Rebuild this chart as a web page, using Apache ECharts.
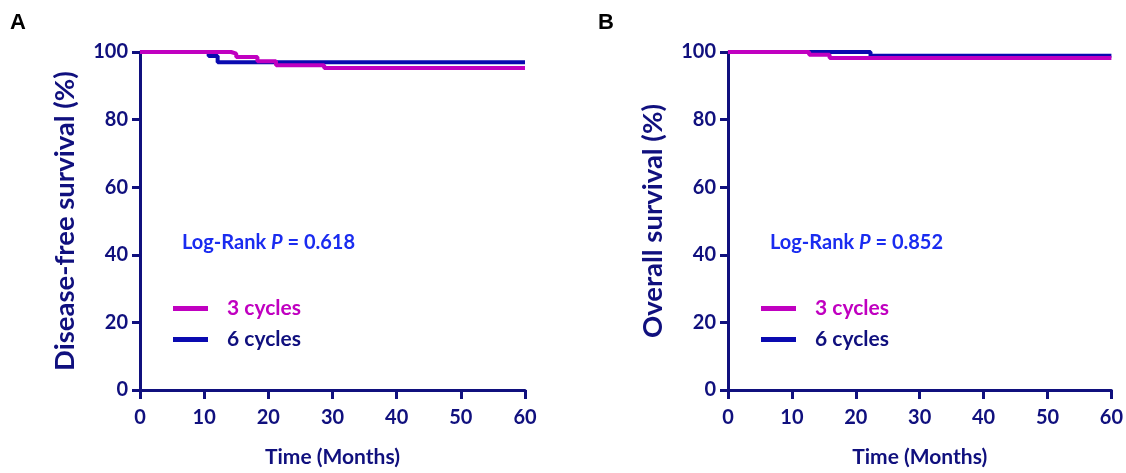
<!DOCTYPE html>
<html><head><meta charset="utf-8">
<script src="https://cdn.jsdelivr.net/npm/echarts@6/dist/echarts.min.js"></script>
<style>html,body{margin:0;padding:0;background:#fff}#c{width:1126px;height:473px}</style>
</head><body><div id="c"></div>
<script>
// ---- data ----
const xTicks = [0, 10, 20, 30, 40, 50, 60];
const yTicks = [0, 20, 40, 60, 80, 100];
const seriesNames = ['3 cycles', '6 cycles'];
// Panel A: disease-free survival (step points: month, %)
const dfsTimes3 = [0, 14.2, 15.0, 18.3, 21.2, 28.7, 60];
const dfsSurv3  = [100, 99.5, 98.5, 97.3, 96.1, 95.3, 95.3];
const dfsTimes6 = [0, 10.7, 12.1, 60];
const dfsSurv6  = [100, 98.8, 97.0, 97.0];
// Panel B: overall survival
const osTimes3 = [0, 12.7, 15.9, 60];
const osSurv3  = [100, 99.2, 98.2, 98.2];
const osTimes6 = [0, 22.3, 60];
const osSurv6  = [100, 98.9, 98.9];
const panelLabels = ['A', 'B'];
const yTitles = ['Disease-free survival (%)', 'Overall survival (%)'];
const xTitle = 'Time (Months)';
const pValues = ['0.618', '0.852'];

// ---- styling ----
const NAVY = '#10107e', MAG = '#c000c0', BLUE = '#0a0ab0', PTXT = '#1a2cf0';
const FONT = 'Lato';
const pair = (ts, vs) => ts.map((t, i) => [t, vs[i]]);
const panels = [
  { left: 140, s3: pair(dfsTimes3, dfsSurv3), s6: pair(dfsTimes6, dfsSurv6) },
  { left: 728, s3: pair(osTimes3, osSurv3), s6: pair(osTimes6, osSurv6) }
];
const grid = [], xAxis = [], yAxis = [], series = [], legend = [], title = [];
panels.forEach((p, i) => {
  grid.push({ left: p.left, top: 52, width: 385, height: 340 });
  xAxis.push({
    type: 'value', gridIndex: i, min: xTicks[0], max: xTicks[xTicks.length - 1], interval: 10,
    name: xTitle, nameLocation: 'middle', nameGap: 57,
    nameTextStyle: { fontFamily: FONT, fontWeight: 'bold', fontSize: 21, color: NAVY },
    axisLine: { lineStyle: { color: NAVY, width: 3 } },
    axisTick: { length: 9, lineStyle: { color: NAVY, width: 3 } },
    axisLabel: { margin: 18, fontFamily: FONT, fontWeight: 'bold', fontSize: 20, color: NAVY },
    splitLine: { show: false }
  });
  yAxis.push({
    type: 'value', gridIndex: i, min: yTicks[0], max: yTicks[yTicks.length - 1], interval: 20,
    name: yTitles[i], nameLocation: 'middle', nameGap: 61, nameRotate: 90,
    nameTextStyle: { fontFamily: FONT, fontWeight: 'bold', fontSize: 27.5, color: NAVY },
    axisLine: { show: true, lineStyle: { color: NAVY, width: 3 } },
    axisTick: { show: true, length: 8, lineStyle: { color: NAVY, width: 3 } },
    axisLabel: { margin: 12, fontFamily: FONT, fontWeight: 'bold', fontSize: 20, color: NAVY },
    splitLine: { show: false }
  });
  series.push({
    name: seriesNames[1], type: 'line', step: 'end', xAxisIndex: i, yAxisIndex: i,
    data: p.s6, showSymbol: false, color: BLUE, lineStyle: { color: BLUE, width: 4 }
  });
  series.push({
    name: seriesNames[0], type: 'line', step: 'end', xAxisIndex: i, yAxisIndex: i,
    data: p.s3, showSymbol: false, color: MAG, lineStyle: { color: MAG, width: 4 }
  });
  const off = p.left - 140;
  legend.push({
    left: 173 + off, top: 296, orient: 'vertical', padding: 0,
    itemWidth: 35, itemHeight: 5, itemGap: 6, icon: 'rect', selectedMode: false,
    data: [
      { name: seriesNames[0], textStyle: { color: MAG } },
      { name: seriesNames[1], textStyle: { color: NAVY } }
    ],
    textStyle: { fontFamily: FONT, fontWeight: 'bold', fontSize: 21, lineHeight: 25, padding: [0, 0, 0, 14] }
  });
  title.push({
    text: '{a|Log-Rank }{b|P}{a| = ' + pValues[i] + '}', left: 182 + off, top: 233, padding: 0,
    textStyle: { rich: {
      a: { fontFamily: FONT, fontWeight: 'bold', fontSize: 20, color: PTXT },
      b: { fontFamily: FONT, fontWeight: 'bold', fontStyle: 'italic', fontSize: 20, color: PTXT }
    } }
  });
  title.push({
    text: panelLabels[i], left: 10 + (i ? 588 : 0), top: 12, padding: 0,
    textStyle: { fontFamily: 'Liberation Sans', fontWeight: 'bold', fontSize: 22, color: '#000' }
  });
});
const chart = echarts.init(document.getElementById('c'), null, { renderer: 'canvas' });
chart.setOption({ animation: false, backgroundColor: '#fff', grid, xAxis, yAxis, series, legend, title });
</script></body></html>
